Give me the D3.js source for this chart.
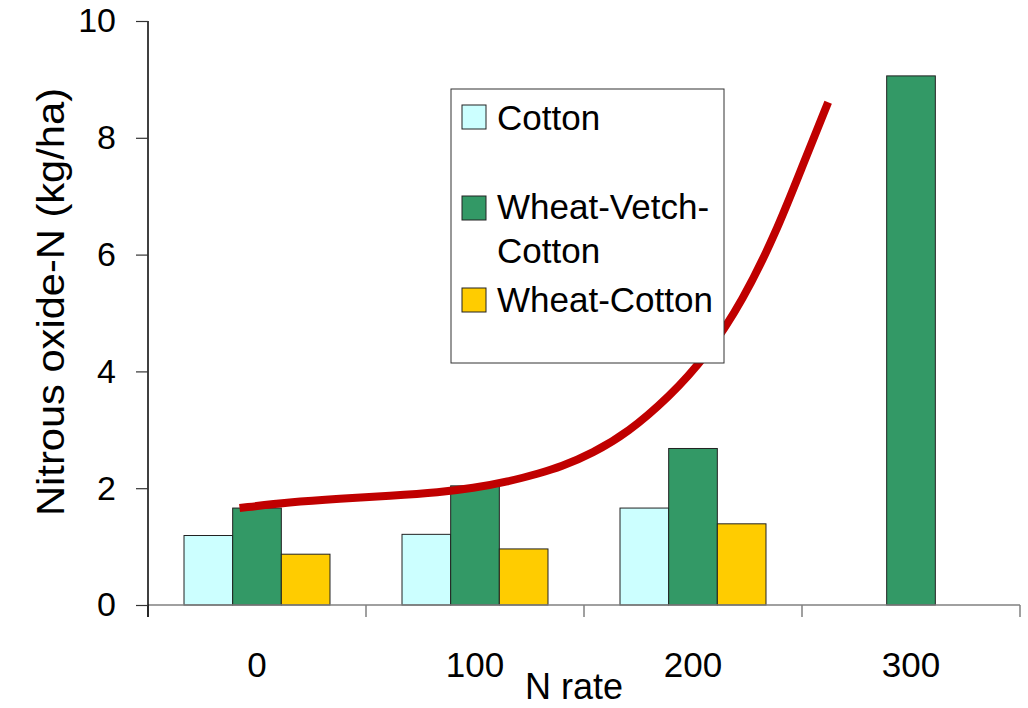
<!DOCTYPE html>
<html>
<head>
<meta charset="utf-8">
<script src="https://cdn.jsdelivr.net/npm/d3@7/dist/d3.min.js"></script>
<style>
  body { margin: 0; background: #fff; }
  svg { display: block; font-family: "Liberation Sans", Arial, sans-serif; }
</style>
</head>
<body>
<svg width="1028" height="708"></svg>
<script>
// N rate categories
const rates = ["0", "100", "200", "300"];
const seriesNames = ["Cotton", "Wheat-Vetch-Cotton", "Wheat-Cotton"];
// nitrous oxide-N (kg/ha), null = no bar
const cotton = [1.19, 1.21, 1.66, null];
const wheatVetchCotton = [1.66, 2.04, 2.68, 9.06];
const wheatCotton = [0.87, 0.96, 1.39, null];
const yTicks = [0, 2, 4, 6, 8, 10];
// hand-drawn trend curve (N rate, kg/ha)
const curveRate = [-8, 15, 38, 61, 84, 99, 115, 130, 139, 154, 170, 189, 206, 223, 238, 250, 262];
const curveValue = [1.66, 1.76, 1.82, 1.87, 1.93, 2.0, 2.11, 2.26, 2.36, 2.6, 2.95, 3.56, 4.25, 5.22, 6.37, 7.5, 8.61];

const colors = ["#ccffff", "#339966", "#ffcc00"];
const seriesValues = [cotton, wheatVetchCotton, wheatCotton];

const svg = d3.select("svg"),
    plotLeft = 148, plotRight = 1020, plotTop = 21, plotBottom = 605;

const x0 = d3.scaleBand()
    .domain(rates)
    .range([plotLeft, plotRight])
    .padding(0);

const x1 = d3.scaleBand()
    .domain(seriesNames)
    .range([0, x0.bandwidth()])
    .paddingInner(0)
    .paddingOuter(0.74);

// numeric N rate -> pixel, matched to the category centres
const xr = d3.scaleLinear()
    .domain([0, 300])
    .range([x0("0") + x0.bandwidth() / 2, x0("300") + x0.bandwidth() / 2]);

const y = d3.scaleLinear()
    .domain([0, 10])
    .range([plotBottom, plotTop]);

// bars
const bars = [];
seriesValues.forEach((vals, s) => {
  vals.forEach((v, i) => {
    if (v != null) bars.push({ rate: rates[i], series: seriesNames[s], value: v, color: colors[s] });
  });
});

svg.append("g")
  .selectAll("rect")
  .data(bars)
  .join("rect")
    .attr("x", d => x0(d.rate) + x1(d.series))
    .attr("y", d => y(d.value))
    .attr("width", x1.bandwidth())
    .attr("height", d => y(0) - y(d.value))
    .attr("fill", d => d.color)
    .attr("stroke", "#222")
    .attr("stroke-width", 1);

// x axis: grey baseline, ticks at category boundaries
const xAxis = svg.append("g");
xAxis.append("line")
    .attr("x1", plotLeft).attr("x2", plotRight)
    .attr("y1", y(0)).attr("y2", y(0))
    .attr("stroke", "#808080")
    .attr("stroke-width", 1.5);
xAxis.selectAll(".bound")
  .data(rates.map(r => x0(r)).concat([x0.range()[1]]))
  .join("line")
    .attr("class", "bound")
    .attr("x1", d => d).attr("x2", d => d)
    .attr("y1", y(0)).attr("y2", y(0) + 12)
    .attr("stroke", "#808080")
    .attr("stroke-width", 1.5);
xAxis.selectAll(".xlab")
  .data(rates)
  .join("text")
    .attr("class", "xlab")
    .attr("x", d => x0(d) + x0.bandwidth() / 2)
    .attr("y", 677)
    .attr("text-anchor", "middle")
    .attr("font-size", 35)
    .text(d => d);

svg.append("text")
    .attr("x", 574)
    .attr("y", 699)
    .attr("text-anchor", "middle")
    .attr("font-size", 36)
    .text("N rate");

// y axis
const yAxis = svg.append("g")
    .attr("transform", "translate(" + plotLeft + ",0)")
    .call(d3.axisLeft(y).tickValues(yTicks).tickSize(12).tickPadding(20));
yAxis.select(".domain")
    .attr("d", "M0," + plotTop + "V" + (plotBottom + 12))
    .attr("stroke", "#000")
    .attr("stroke-width", 1.5);
yAxis.selectAll(".tick line").attr("stroke", "#333").attr("stroke-width", 1.2);
yAxis.selectAll(".tick text")
    .attr("font-size", 34)
    .attr("fill", "#000")
    .style("font-family", "'Liberation Sans', Arial, sans-serif");

svg.append("text")
    .attr("transform", "translate(64," + 302 + ") rotate(-90)")
    .attr("text-anchor", "middle")
    .attr("font-size", 38)
    .attr("textLength", 428)
    .attr("lengthAdjust", "spacingAndGlyphs")
    .text("Nitrous oxide-N (kg/ha)");

// red curve
const curve = curveRate.map((r, i) => ({ rate: r, value: curveValue[i] }));
svg.append("path")
    .datum(curve)
    .attr("fill", "none")
    .attr("stroke", "#c00000")
    .attr("stroke-width", 8)
    .attr("d", d3.line()
        .x(d => xr(d.rate))
        .y(d => y(d.value))
        .curve(d3.curveBasis));

// legend
const legend = svg.append("g");
legend.append("rect")
    .attr("x", 451).attr("y", 89)
    .attr("width", 273).attr("height", 274)
    .attr("fill", "#fff")
    .attr("stroke", "#333")
    .attr("stroke-width", 1);

const legendRows = [
  { lines: ["Cotton"], swatchY: 105, baseY: 130 },
  { lines: ["Wheat-Vetch-", "Cotton"], swatchY: 196, baseY: 219 },
  { lines: ["Wheat-Cotton"], swatchY: 288, baseY: 312 }
];
legendRows.forEach((row, i) => {
  legend.append("rect")
      .attr("x", 462).attr("y", row.swatchY)
      .attr("width", 24).attr("height", 24)
      .attr("fill", colors[i])
      .attr("stroke", "#222")
      .attr("stroke-width", 1);
  const t = legend.append("text")
      .attr("x", 497)
      .attr("y", row.baseY)
      .attr("font-size", 35);
  row.lines.forEach((ln, j) => {
    t.append("tspan")
        .attr("x", 497)
        .attr("dy", j === 0 ? 0 : 44)
        .text(ln);
  });
});
</script>
</body>
</html>
